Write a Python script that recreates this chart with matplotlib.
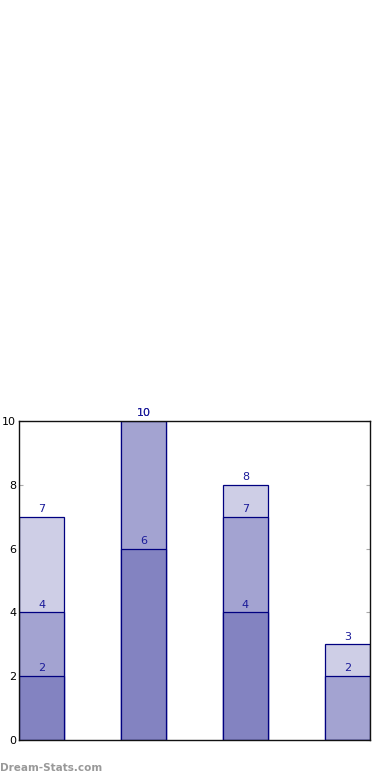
import numpy as np
import matplotlib.pyplot as plt

# cumulative totals per bar, drawn back to front
light = [7, 10, 8, 3]
medium = [4, 10, 7, 2]
dark = [2, 6, 4, 0]
yticks = [0, 2, 4, 6, 8, 10]

colors = ['#cecee6', '#a3a3d1', '#8383c1']
edge = '#000080'
lblcol = '#1a1a99'

fig = plt.figure(figsize=(3.9, 7.8), dpi=100)
ax = fig.add_axes([0.0487, 0.0513, 0.9, 0.4090])

x = np.arange(len(light))
w = 0.445
for vals, c in zip([light, medium, dark], colors):
    ax.bar(x, vals, width=w, align='edge', color=c, edgecolor=edge, linewidth=0.9, zorder=2)

for vals in [light, medium, dark]:
    for xi, v in zip(x, vals):
        if v > 0:
            ax.annotate(str(v), (xi + w / 2, v), xytext=(0, 2), textcoords='offset points',
                        ha='center', va='bottom', fontsize=8, color=lblcol, zorder=3)

ax.set_xlim(0, len(light) - 1 + w)
ax.set_ylim(0, 10)
ax.set_yticks(yticks)
ax.set_xticks([])
ax.tick_params(axis='y', direction='in', length=3, color='#aaaaaa', labelsize=8,
               right=True, pad=2)
for s in ax.spines.values():
    s.set_color('#111111')
    s.set_linewidth(1)

fig.text(0.0, 0.012, 'Dream-Stats.com', fontsize=7.5, color='#999999', fontweight='bold')

fig.savefig('out.png', dpi=100)
